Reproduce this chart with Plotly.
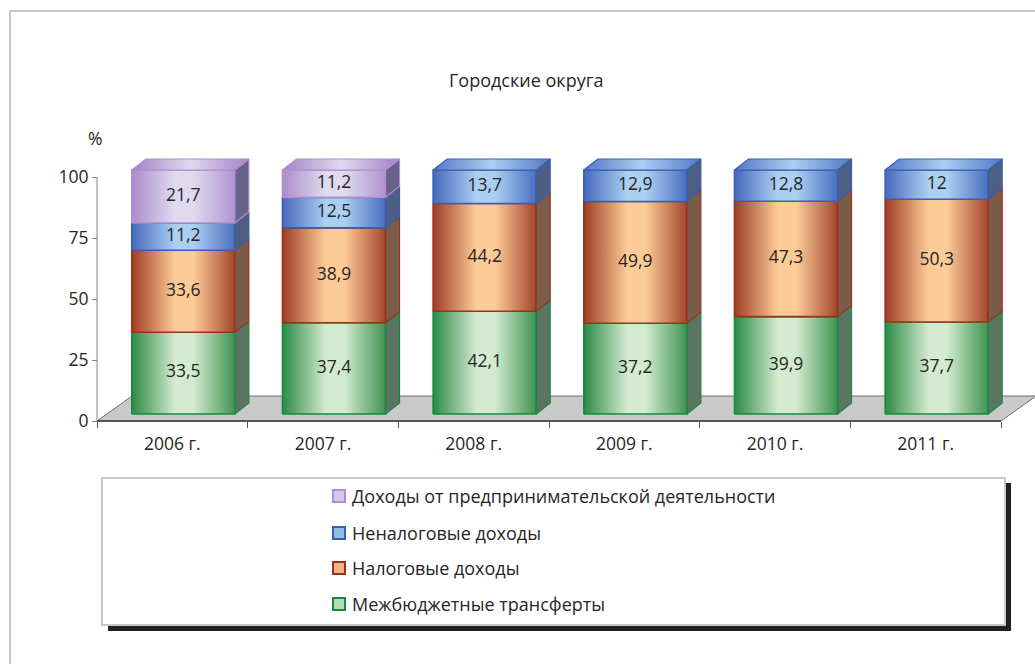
import plotly.graph_objects as go

# ---------------- data ----------------
years = ["2006 г.", "2007 г.", "2008 г.", "2009 г.", "2010 г.", "2011 г."]
transfers = [33.5, 37.4, 42.1, 37.2, 39.9, 37.7]        # Межбюджетные трансферты
tax = [33.6, 38.9, 44.2, 49.9, 47.3, 50.3]              # Налоговые доходы
nontax = [11.2, 12.5, 13.7, 12.9, 12.8, 12]             # Неналоговые доходы
business = [21.7, 11.2, 0, 0, 0, 0]                     # Доходы от предпринимательской деятельности
y_ticks = [0, 25, 50, 75, 100]

series_names = [
    "Межбюджетные трансферты",
    "Налоговые доходы",
    "Неналоговые доходы",
    "Доходы от предпринимательской деятельности",
]
series_values = [transfers, tax, nontax, business]

styles = [
    dict(edge="#2b8a45", light="#d3ebcf", right="#3f9352", line="#178a3e", side="#5a7663", top="#3f9352", leg="#b5dcb2"),
    dict(edge="#9e3d25", light="#fdcb97", right="#a3462c", line="#9a321d", side="#7a5c48", top="#a3462c", leg="#f6b785"),
    dict(edge="#4669bd", light="#aacff1", right="#4a6fbf", line="#3a5eb3", side="#4f5e84", top="#5378c4", leg="#94bce8"),
    dict(edge="#ac8ccb", light="#dfdaef", right="#b193cf", line="#b08ecf", side="#67628a", top="#a283c6", leg="#d3c8e8"),
]

W, H = 1035, 664
FONT = "Open Sans"
TXT = "#262626"

X_PX0, BAND = 97.0, 150.67
Y_PX0, K = 421.0, 2.44


def xp(px):
    return px / W


def yp(py):
    return 1 - py / H


x_range = [-0.75, (W - X_PX0) / BAND - 0.5]
x_dom = [(X_PX0 + (x_range[0] + 0.5) * BAND) / W, 1.0]
y_range = [-8, 115]
y_dom = [yp(Y_PX0 - y_range[0] * K), yp(Y_PX0 - y_range[1] * K)]

OFF_X, OFF_Y = 11.0 / BAND, 7.0 / K
HALF = 0.342
DX, DY = 14.0 / BAND, 11.0 / K
FDX, FDY = 35.0 / BAND, 25.0 / K

fig = go.Figure()

fx = [-0.5, 5.5, 5.5 + FDX, -0.5 + FDX, -0.5]
fy = [0, 0, FDY, FDY, 0]
fig.add_trace(go.Scatter(x=fx, y=fy, mode="lines", fill="toself", fillcolor="#c9c9c9",
                         line=dict(color="#6e6e6e", width=1), hoverinfo="skip", showlegend=False))
fig.add_trace(go.Scatter(x=[-0.5, 5.5], y=[0, 0], mode="lines",
                         line=dict(color="#3a3a3a", width=1.5), hoverinfo="skip", showlegend=False))

label_x, label_y, label_t = [], [], []
for i, yr in enumerate(years):
    base = OFF_Y
    xl = i + OFF_X - HALF
    xr = i + OFF_X + HALF
    tops = [k for k in range(4) if series_values[k][i] > 0]
    last = tops[-1]
    for k in range(4):
        v = series_values[k][i]
        if v <= 0:
            continue
        st = styles[k]
        y0, y1 = base, base + v
        fig.add_trace(go.Scatter(
            x=[xl, xr, xr, xl, xl], y=[y0, y0, y1, y1, y0], mode="lines", fill="toself",
            fillgradient=dict(type="horizontal",
                              colorscale=[[0, st["edge"]], [0.42, st["light"]], [0.6, st["light"]], [1, st["right"]]]),
            line=dict(color=st["line"], width=1.6), hoverinfo="skip", showlegend=False))
        fig.add_trace(go.Scatter(
            x=[xr, xr + DX, xr + DX, xr, xr], y=[y0, y0 + DY, y1 + DY, y1, y0], mode="lines", fill="toself",
            fillcolor=st["side"], line=dict(color=st["line"], width=1.2), hoverinfo="skip", showlegend=False))
        if k == last:
            fig.add_trace(go.Scatter(
                x=[xl, xr, xr + DX, xl + DX, xl], y=[y1, y1, y1 + DY, y1 + DY, y1], mode="lines", fill="toself",
                fillgradient=dict(type="horizontal",
                                  colorscale=[[0, st["top"]], [0.5, st["light"]], [1, st["top"]]]),
                line=dict(color=st["line"], width=1.2), hoverinfo="skip", showlegend=False))
        label_x.append(i + OFF_X)
        label_y.append((y0 + y1) / 2)
        label_t.append(f"{v:g}".replace(".", ","))
        base = y1

fig.add_trace(go.Scatter(x=label_x, y=label_y, text=label_t, mode="text",
                         textfont=dict(family=FONT, size=17.5, color=TXT),
                         hoverinfo="skip", showlegend=False))

shapes = []
shapes.append(dict(type="line", xref="paper", yref="paper", x0=xp(10), x1=xp(10), y0=yp(11), y1=yp(670),
                   line=dict(color="#c8c8c8", width=2)))
shapes.append(dict(type="line", xref="paper", yref="paper", x0=xp(10), x1=xp(1040), y0=yp(11), y1=yp(11),
                   line=dict(color="#c8c8c8", width=2)))
shapes.append(dict(type="line", xref="paper", yref="y", x0=xp(X_PX0), x1=xp(X_PX0), y0=0, y1=100,
                   line=dict(color="#868686", width=1)))
shapes.append(dict(type="rect", xref="paper", yref="paper", x0=xp(108), x1=xp(1011), y0=yp(631), y1=yp(483),
                   fillcolor="#231f20", line=dict(width=0)))
shapes.append(dict(type="rect", xref="paper", yref="paper", x0=xp(102), x1=xp(1005), y0=yp(625), y1=yp(478),
                   fillcolor="white", line=dict(color="#c8c8c8", width=2)))

annotations = [
    dict(text="Городские округа", xref="paper", yref="paper", x=xp(526), y=yp(80), showarrow=False,
         font=dict(family=FONT, size=18, color=TXT), xanchor="center", yanchor="middle"),
    dict(text="%", xref="paper", yref="paper", x=xp(95), y=yp(138), showarrow=False,
         font=dict(family=FONT, size=17.5, color=TXT), xanchor="center", yanchor="middle"),
]

leg_y = [604, 568, 533, 496]
for k in range(4):
    st = styles[k]
    cy = leg_y[k]
    shapes.append(dict(type="rect", xref="paper", yref="paper", x0=xp(333), x1=xp(345), y0=yp(cy + 6), y1=yp(cy - 6),
                       fillcolor=st["leg"], line=dict(color=st["line"], width=2)))
    annotations.append(dict(text=series_names[k], xref="paper", yref="paper", x=xp(350), y=yp(cy), showarrow=False,
                            font=dict(family=FONT, size=18, color=TXT), xanchor="left", yanchor="middle"))

fig.update_layout(
    template="none",
    width=W, height=H,
    margin=dict(l=0, r=0, t=0, b=0),
    paper_bgcolor="white", plot_bgcolor="rgba(0,0,0,0)",
    showlegend=False,
    xaxis=dict(range=x_range, domain=x_dom, anchor="free", position=yp(Y_PX0),
               tickmode="array", tickvals=list(range(len(years))), ticktext=years, ticks="",
               ticklabelstandoff=10,
               tickfont=dict(family=FONT, size=17.5, color=TXT),
               minor=dict(tickmode="array", tickvals=[i - 0.5 for i in range(len(years) + 1)],
                          ticks="outside", ticklen=6, tickcolor="#555555"),
               showgrid=False, zeroline=False, showline=False, automargin=False, fixedrange=True),
    yaxis=dict(range=y_range, domain=y_dom, anchor="free", position=xp(X_PX0),
               tickmode="array", tickvals=y_ticks, ticks="outside", ticklen=5, tickcolor="#868686",
               tickfont=dict(family=FONT, size=17.5, color=TXT),
               showgrid=False, zeroline=False, showline=False, automargin=False, fixedrange=True),
    shapes=shapes,
    annotations=annotations,
)

fig.write_html("out.html", config={"displayModeBar": False},
               post_script="document.body.style.margin='0px';document.body.style.overflow='hidden';")
